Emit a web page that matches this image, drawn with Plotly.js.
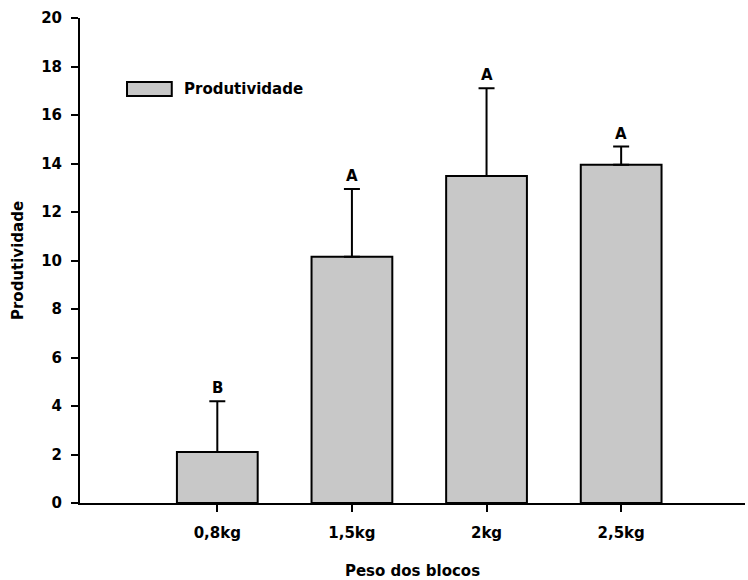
<!DOCTYPE html>
<html>
<head>
<meta charset="utf-8">
<script src="https://cdn.plot.ly/plotly-3.0.1.min.js"></script>
<style>html,body{margin:0;padding:0;background:#fff;}#chart{width:748px;height:580px;}</style>
</head>
<body>
<div id="chart"></div>
<script>
var categories = ["0,8kg", "1,5kg", "2kg", "2,5kg"];
var produtividade = [2.1, 10.15, 13.48, 13.95];
var errorUp = [2.1, 2.8, 3.62, 0.75];
var letters = ["B", "A", "A", "A"];
var seriesName = "Produtividade";

var font = "DejaVu Sans, Liberation Sans, Arial, sans-serif";

var trace = {
  type: "bar",
  x: categories,
  y: produtividade,
  name: seriesName,
  width: 0.6,
  showlegend: false,
  marker: { color: "#c8c8c8", line: { color: "#000", width: 2 } },
  error_y: { type: "data", symmetric: false, array: errorUp, arrayminus: errorUp.map(function(){return 0;}), color: "#000", thickness: 2, width: 8 }
};

var annotations = categories.map(function(c, i) {
  return { x: c, y: produtividade[i] + errorUp[i], xref: "x", yref: "y", text: "<b>" + letters[i] + "</b>",
    showarrow: false, yanchor: "bottom", yshift: 2, font: { family: font, size: 15, color: "#000" } };
});
annotations.push({ x: 0.153, y: 0.854, xref: "paper", yref: "paper", xanchor: "left", yanchor: "middle",
  text: "<b>" + seriesName + "</b>", showarrow: false, font: { family: font, size: 15, color: "#000" } });

var layout = {
  width: 748, height: 580,
  margin: { l: 80, r: 3, t: 18, b: 77 },
  paper_bgcolor: "#fff", plot_bgcolor: "#fff",
  font: { family: font, size: 15, color: "#000" },
  xaxis: {
    type: "category", range: [-1.02, 3.92], showgrid: false, zeroline: false,
    showline: true, linecolor: "#000", linewidth: 2,
    ticks: "outside", ticklen: 7, tickwidth: 2, tickcolor: "#000",
    ticklabelstandoff: 8,
    tickfont: { family: font, size: 15, weight: "bold" },
    title: { text: "<b>Peso dos blocos</b>", font: { family: font, size: 15 }, standoff: 26 }
  },
  yaxis: {
    range: [0, 20], dtick: 2, tick0: 0, showgrid: false, zeroline: false,
    showline: true, linecolor: "#000", linewidth: 2,
    ticks: "outside", ticklen: 7, tickwidth: 2, tickcolor: "#000",
    ticklabelstandoff: 6,
    tickfont: { family: font, size: 15, weight: "bold" },
    title: { text: "<b>Produtividade</b>", font: { family: font, size: 15 }, standoff: 14 }
  },
  shapes: [{ type: "rect", xref: "paper", yref: "paper", x0: 0.0707, x1: 0.138, y0: 0.839, y1: 0.868,
    fillcolor: "#c8c8c8", line: { color: "#000", width: 2 } }],
  annotations: annotations
};

Plotly.newPlot("chart", [trace], layout, { displayModeBar: false, staticPlot: true });
</script>
</body>
</html>
